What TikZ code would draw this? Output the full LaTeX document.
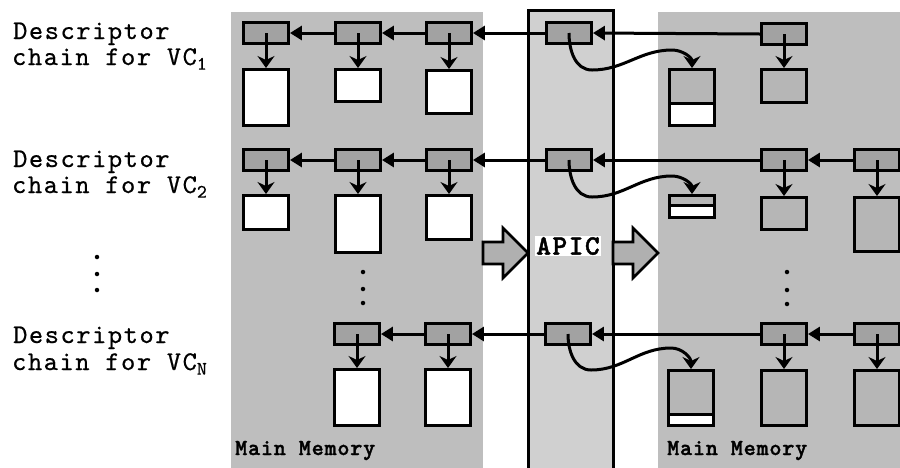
\documentclass[tikz,border=0pt]{standalone}
\usepackage{fontspec}
\usetikzlibrary{arrows.meta}
\definecolor{panelgray}{HTML}{BEBEBE}
\definecolor{descgray}{HTML}{A2A2A2}
\definecolor{apicgray}{HTML}{D0D0D0}
\definecolor{arrowgray}{HTML}{B0B0B0}
\definecolor{rbufgray}{HTML}{B6B6B6}
\newfontfamily\courfont{lmmono10-regular.otf}[LetterSpace=6,FakeBold=0.6]
\newfontfamily\courbfont{lmmonolt10-bold.otf}[LetterSpace=3.5,FakeBold=1.5]
\newfontfamily\apicfont{lmmonolt10-bold.otf}[LetterSpace=5.5,FakeBold=1.5]
\newcommand{\vcsub}[1]{\raisebox{-0.4ex}{\fontsize{19}{19}\selectfont #1}}
\begin{document}
\begin{tikzpicture}[x=1pt,y=-1pt,
  desc/.style={draw=black, line width=3.4pt, fill=descgray, minimum width=44.5pt, minimum height=20.5pt, inner sep=0pt},
  buf/.style={draw=black, line width=3.4pt, fill=white, minimum width=44.5pt, inner sep=0pt, anchor=north},
  rbuf/.style={buf, fill=rbufgray},
  topgray/.style={path picture={
      \fill[rbufgray] (path picture bounding box.north west) rectangle ([yshift=-#1]path picture bounding box.north east);
      \draw[line width=3.2pt] ([yshift=-#1]path picture bounding box.north west) -- ([yshift=-#1]path picture bounding box.north east);}},
  harr/.style={line width=3pt, -{Triangle[length=12pt,width=14pt]}},
  varr/.style={line width=3pt, -{Stealth[length=12pt,width=17pt,inset=4pt]}},
  carr/.style={line width=3pt, -{Stealth[length=12pt,width=17pt,inset=4pt]}},
  lbl/.style={font=\courfont\fontsize{27}{27}\selectfont, inner sep=0pt, anchor=base west},
  mm/.style={font=\courbfont\fontsize{23}{23}\selectfont, inner sep=0pt, anchor=base west},
  bigarrow/.style={draw=black, line width=2.6pt, fill=arrowgray, line join=miter},
  vdot/.style={fill=black, circle, inner sep=0pt, minimum size=4.5pt}
]
\useasboundingbox (0,0) rectangle (900,467);
\fill[white] (0,0) rectangle (900,467);
% panels
\fill[panelgray] (231,12) rectangle (483,470);
\fill[panelgray] (658,12) rectangle (905,470);
\draw[line width=3pt, fill=apicgray] (528,10) rectangle (613,475);
% big arrows
\draw[bigarrow] (483,242) -- (503,242) -- (503,228) -- (528,253) -- (503,278) -- (503,264) -- (483,264) -- cycle;
\draw[bigarrow] (613,242) -- (633,242) -- (633,228) -- (658,253) -- (633,278) -- (633,264) -- (613,264) -- cycle;
\node[font=\apicfont\fontsize{28}{28}\selectfont, fill=white, inner xsep=1pt, inner ysep=1.5pt] (apic) at (568,246) {APIC};

% left labels
\node[lbl] (l1a) at (13,39) {Descriptor};
\node[lbl] (l1b) at (12,65) {chain for VC\vcsub{1}};
\node[lbl] (l2a) at (13,167) {Descriptor};
\node[lbl] (l2b) at (12,193) {chain for VC\vcsub{2}};
\node[lbl] (l3a) at (13,343) {Descriptor};
\node[lbl] (l3b) at (12,370) {chain for VC\vcsub{N}};
\node[vdot] (ld1) at (97,257) {};
\node[vdot] (ld2) at (97,274) {};
\node[vdot] (ld3) at (97,290) {};

% ===== Row 1 =====
\node[desc] (d11) at (266,33) {};
\node[desc] (d12) at (358,33) {};
\node[desc] (d13) at (449,33) {};
\node[desc] (a1)  at (569,33) {};
\node[desc] (r11) at (784,34) {};
\node[buf, minimum height=56pt] (b11) at (266,68) {};
\node[buf, minimum height=32pt] (b12) at (358,68) {};
\node[buf, minimum height=43pt] (b13) at (449,69) {};
\node[buf, minimum height=56pt, topgray=34pt] (t1) at (692,68) {};
\node[rbuf, minimum height=33pt] (rb11) at (784,68) {};

\draw[harr] (r11.west) -- (a1.east);
\draw[harr] (a1.west) -- (d13.east);
\draw[harr] (d13.west) -- (d12.east);
\draw[harr] (d12.west) -- (d11.east);
\draw[varr] (d11.center) -- (b11.north);
\draw[varr] (d12.center) -- (b12.north);
\draw[varr] (d13.center) -- (b13.north);
\draw[varr] (r11.center) -- (rb11.north);
\draw[carr] (a1.center) to[out=-90,in=180] (592,70) to[out=0,in=180] (672,50) to[out=0,in=90] (t1.north);

% ===== Row 2 =====
\node[desc] (d21) at (266,160) {};
\node[desc] (d22) at (358,160) {};
\node[desc] (d23) at (449,160) {};
\node[desc] (a2)  at (569,160) {};
\node[desc] (r21) at (784,160) {};
\node[desc] (r22) at (877,160) {};
\node[buf, minimum height=34pt] (b21) at (266,194) {};
\node[buf, minimum height=57pt] (b22) at (358,194) {};
\node[buf, minimum height=44pt] (b23) at (449,194) {};
\node[buf, minimum height=22pt, topgray=10pt] (t2) at (692,194) {};
\node[rbuf, minimum height=32pt] (rb21) at (784,196) {};
\node[rbuf, minimum height=54pt] (rb22) at (877,196) {};

\draw[harr] (r22.west) -- (r21.east);
\draw[harr] (r21.west) -- (a2.east);
\draw[harr] (a2.west) -- (d23.east);
\draw[harr] (d23.west) -- (d22.east);
\draw[harr] (d22.west) -- (d21.east);
\draw[varr] (d21.center) -- (b21.north);
\draw[varr] (d22.center) -- (b22.north);
\draw[varr] (d23.center) -- (b23.north);
\draw[varr] (r21.center) -- (rb21.north);
\draw[varr] (r22.center) -- (rb22.north);
\draw[carr] (a2.center) to[out=-90,in=180] (592,197) to[out=0,in=180] (672,176) to[out=0,in=90] (t2.north);

% dots
\node[vdot] (md1) at (363,272) {};
\node[vdot] (md2) at (363,289) {};
\node[vdot] (md3) at (363,303) {};
\node[vdot] (rd1) at (787,272) {};
\node[vdot] (rd2) at (787,290) {};
\node[vdot] (rd3) at (787,304) {};

% ===== Row N =====
\node[desc] (dN2) at (357,334) {};
\node[desc] (dN3) at (448,334) {};
\node[desc] (aN)  at (568,334) {};
\node[desc] (rN1) at (784,334) {};
\node[desc] (rN2) at (877,334) {};
\node[buf, minimum height=56pt] (bN2) at (357,368) {};
\node[buf, minimum height=56pt] (bN3) at (448,368) {};
\node[buf, minimum height=55pt, topgray=44pt] (tN) at (691,369) {};
\node[rbuf, minimum height=55pt] (rbN1) at (784,369) {};
\node[rbuf, minimum height=55pt] (rbN2) at (877,369) {};

\draw[harr] (rN2.west) -- (rN1.east);
\draw[harr] (rN1.west) -- (aN.east);
\draw[harr] (aN.west) -- (dN3.east);
\draw[harr] (dN3.west) -- (dN2.east);
\draw[varr] (dN2.center) -- (bN2.north);
\draw[varr] (dN3.center) -- (bN3.north);
\draw[varr] (rN1.center) -- (rbN1.north);
\draw[varr] (rN2.center) -- (rbN2.north);
\draw[carr] (aN.center) to[out=-90,in=180] (591,370) to[out=0,in=180] (671,348) to[out=0,in=90] (tN.north);

% Main Memory labels
\node[mm] (mm1) at (235,455) {Main Memory};
\node[mm] (mm2) at (667,455) {Main Memory};
\end{tikzpicture}
\end{document}
